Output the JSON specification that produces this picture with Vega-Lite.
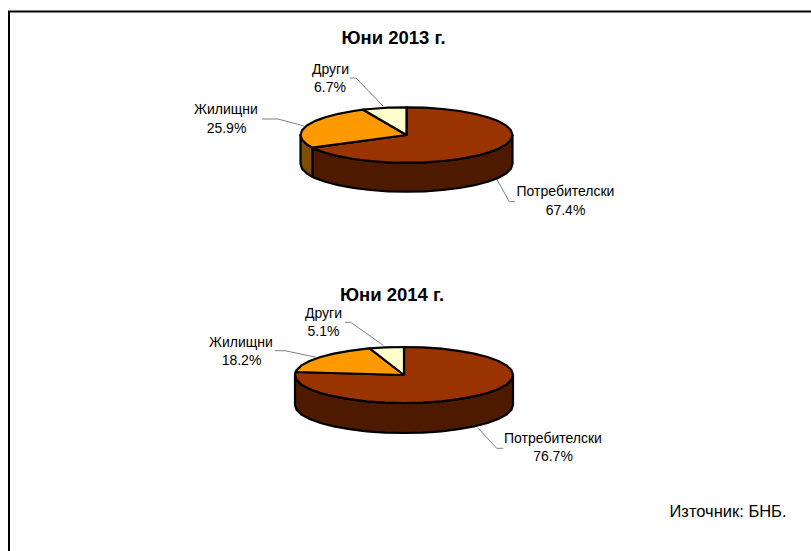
{"$schema":"https://vega.github.io/schema/vega-lite/v6.json","width":811,"height":551,"padding":0,"autosize":{"type":"fit","contains":"padding"},"background":"white","view":{"stroke":null},"projection":{"type":"identity","scale":1,"translate":[0,0]},"datasets":{"slices":[
{"year":"2013","category":"Потребителски","share":67.4,"tone":"consumer wall","geo":{"type":"Polygon","coordinates":[[[512.5,135],[510.9,139.8],[506.1,144.5],[498.3,148.9],[487.7,152.8],[474.6,156.2],[459.5,159],[442.8,161],[424.9,162.3],[406.5,162.7],[388.1,162.3],[370.2,161],[353.5,159],[338.4,156.2],[325.3,152.8],[314.7,148.9],[312.4,147.7],[312.4,176.7],[314.7,177.9],[325.3,181.8],[338.4,185.2],[353.5,188],[370.2,190],[388.1,191.3],[406.5,191.7],[424.9,191.3],[442.8,190],[459.5,188],[474.6,185.2],[487.7,181.8],[498.3,177.9],[506.1,173.5],[510.9,168.8],[512.5,164],[512.5,135]]]}},
{"year":"2013","category":"Жилищни","share":25.9,"tone":"housing wall","geo":{"type":"Polygon","coordinates":[[[312.4,147.7],[306.9,144.5],[302.1,139.8],[300.5,135],[300.5,164],[302.1,168.8],[306.9,173.5],[312.4,176.7],[312.4,147.7]]]}},
{"year":"2013","category":"Потребителски","share":67.4,"tone":"consumer","geo":{"type":"Polygon","coordinates":[[[406.5,135],[406.5,107.3],[424.9,107.7],[442.8,109],[459.5,111],[474.6,113.8],[487.7,117.2],[498.3,121.1],[506.1,125.5],[510.9,130.2],[512.5,135],[510.9,139.8],[506.1,144.5],[498.3,148.9],[487.7,152.8],[474.6,156.2],[459.5,159],[442.8,161],[424.9,162.3],[406.5,162.7],[388.1,162.3],[370.2,161],[353.5,159],[338.4,156.2],[325.3,152.8],[314.7,148.9],[312.4,147.7],[406.5,135]]]}},
{"year":"2013","category":"Жилищни","share":25.9,"tone":"housing","geo":{"type":"Polygon","coordinates":[[[406.5,135],[312.4,147.7],[306.9,144.5],[302.1,139.8],[300.5,135],[302.1,130.2],[306.9,125.5],[314.7,121.1],[325.3,117.2],[338.4,113.8],[353.5,111],[363.2,109.7],[406.5,135]]]}},
{"year":"2013","category":"Други","share":6.7,"tone":"other","geo":{"type":"Polygon","coordinates":[[[406.5,135],[363.2,109.7],[370.2,109],[388.1,107.7],[406.5,107.3],[406.5,135]]]}},
{"year":"2014","category":"Потребителски","share":76.7,"tone":"consumer wall","geo":{"type":"Polygon","coordinates":[[[513,375],[511.4,379.9],[506.5,384.6],[498.4,389],[487.5,393],[474.1,396.4],[458.5,399.2],[441.3,401.3],[423,402.6],[404,403],[385,402.6],[366.7,401.3],[349.5,399.2],[333.9,396.4],[320.5,393],[309.6,389],[301.5,384.6],[296.6,379.9],[295,375],[295,405],[296.6,409.9],[301.5,414.6],[309.6,419],[320.5,423],[333.9,426.4],[349.5,429.2],[366.7,431.3],[385,432.6],[404,433],[423,432.6],[441.3,431.3],[458.5,429.2],[474.1,426.4],[487.5,423],[498.4,419],[506.5,414.6],[511.4,409.9],[513,405],[513,375]]]}},
{"year":"2014","category":"Потребителски","share":76.7,"tone":"consumer","geo":{"type":"Polygon","coordinates":[[[404,375],[404,347],[423,347.4],[441.3,348.7],[458.5,350.8],[474.1,353.6],[487.5,357],[498.4,361],[506.5,365.4],[511.4,370.1],[513,375],[511.4,379.9],[506.5,384.6],[498.4,389],[487.5,393],[474.1,396.4],[458.5,399.2],[441.3,401.3],[423,402.6],[404,403],[385,402.6],[366.7,401.3],[349.5,399.2],[333.9,396.4],[320.5,393],[309.6,389],[301.5,384.6],[296.6,379.9],[295,375],[295.6,372],[404,375]]]}},
{"year":"2014","category":"Жилищни","share":18.2,"tone":"housing","geo":{"type":"Polygon","coordinates":[[[404,375],[295.6,372],[296.6,370.1],[301.5,365.4],[309.6,361],[320.5,357],[333.9,353.6],[349.5,350.8],[366.7,348.7],[369.6,348.4],[404,375]]]}},
{"year":"2014","category":"Други","share":5.1,"tone":"other","geo":{"type":"Polygon","coordinates":[[[404,375],[369.6,348.4],[385,347.4],[404,347],[404,375]]]}}
],"leaders":[
{"name":"frame","shade":"frame","geo":{"type":"LineString","coordinates":[[9,551],[9,11.5],[811,11.5]]}},
{"name":"2013 Други","shade":"leader","geo":{"type":"LineString","coordinates":[[350,78],[356,78],[383,106]]}},
{"name":"2013 Жилищни","shade":"leader","geo":{"type":"LineString","coordinates":[[262,119],[278,119],[304,126]]}},
{"name":"2013 Потребителски","shade":"leader","geo":{"type":"LineString","coordinates":[[496.7,179],[509.3,201.7],[515,201.7]]}},
{"name":"2014 Други","shade":"leader","geo":{"type":"LineString","coordinates":[[345,322.3],[350.7,322.3],[383.3,345.3]]}},
{"name":"2014 Жилищни","shade":"leader","geo":{"type":"LineString","coordinates":[[275,350.7],[285,350.7],[316,357.3]]}},
{"name":"2014 Потребителски","shade":"leader","geo":{"type":"LineString","coordinates":[[478.3,428.3],[496.7,448.3],[503.3,448.3]]}}
],"labels":[
{"label":"Други","lon":330.5,"lat":69.5},{"label":"6.7%","lon":330,"lat":87.5},
{"label":"Жилищни","lon":226,"lat":110},{"label":"25.9%","lon":226.5,"lat":128.5},
{"label":"Потребителски","lon":565.5,"lat":192},{"label":"67.4%","lon":565.5,"lat":211},
{"label":"Други","lon":323.5,"lat":314},{"label":"5.1%","lon":323.5,"lat":332},
{"label":"Жилищни","lon":241,"lat":343},{"label":"18.2%","lon":241.5,"lat":361},
{"label":"Потребителски","lon":553,"lat":438.5},{"label":"76.7%","lon":553,"lat":456.5}
],"titles":[{"label":"Юни 2013 г.","lon":393.5,"lat":37.5},{"label":"Юни 2014 г.","lon":392,"lat":295}],"source":[{"label":"Източник: БНБ.","lon":728,"lat":511.5}]},
"layer":[
{"data":{"name":"leaders"},"mark":{"type":"geoshape","filled":false,"strokeJoin":"miter"},"encoding":{"shape":{"field":"geo","type":"geojson"},"stroke":{"field":"shade","type":"nominal","legend":null,"scale":{"domain":["frame","leader"],"range":["#000000","#808080"]}},"strokeWidth":{"field":"shade","type":"nominal","legend":null,"scale":{"domain":["frame","leader"],"range":[2,1]}}}},
{"data":{"name":"slices"},"mark":{"type":"geoshape","stroke":"#000000","strokeWidth":2.2,"strokeJoin":"round"},"encoding":{"shape":{"field":"geo","type":"geojson"},"fill":{"field":"tone","type":"nominal","legend":null,"scale":{"domain":["consumer","consumer wall","housing","housing wall","other"],"range":["#993300","#4D1A00","#FF9900","#804D00","#FFFFCC"]}}}},
{"data":{"name":"labels"},"mark":{"type":"text","font":"Liberation Sans","fontSize":14,"color":"#000000","align":"center","baseline":"middle"},"encoding":{"longitude":{"field":"lon","type":"quantitative"},"latitude":{"field":"lat","type":"quantitative"},"text":{"field":"label"}}},
{"data":{"name":"titles"},"mark":{"type":"text","font":"Liberation Sans","fontSize":18.5,"fontWeight":"bold","color":"#000000","align":"center","baseline":"middle"},"encoding":{"longitude":{"field":"lon","type":"quantitative"},"latitude":{"field":"lat","type":"quantitative"},"text":{"field":"label"}}},
{"data":{"name":"source"},"mark":{"type":"text","font":"Liberation Sans","fontSize":16.5,"color":"#000000","align":"center","baseline":"middle"},"encoding":{"longitude":{"field":"lon","type":"quantitative"},"latitude":{"field":"lat","type":"quantitative"},"text":{"field":"label"}}}
]}
